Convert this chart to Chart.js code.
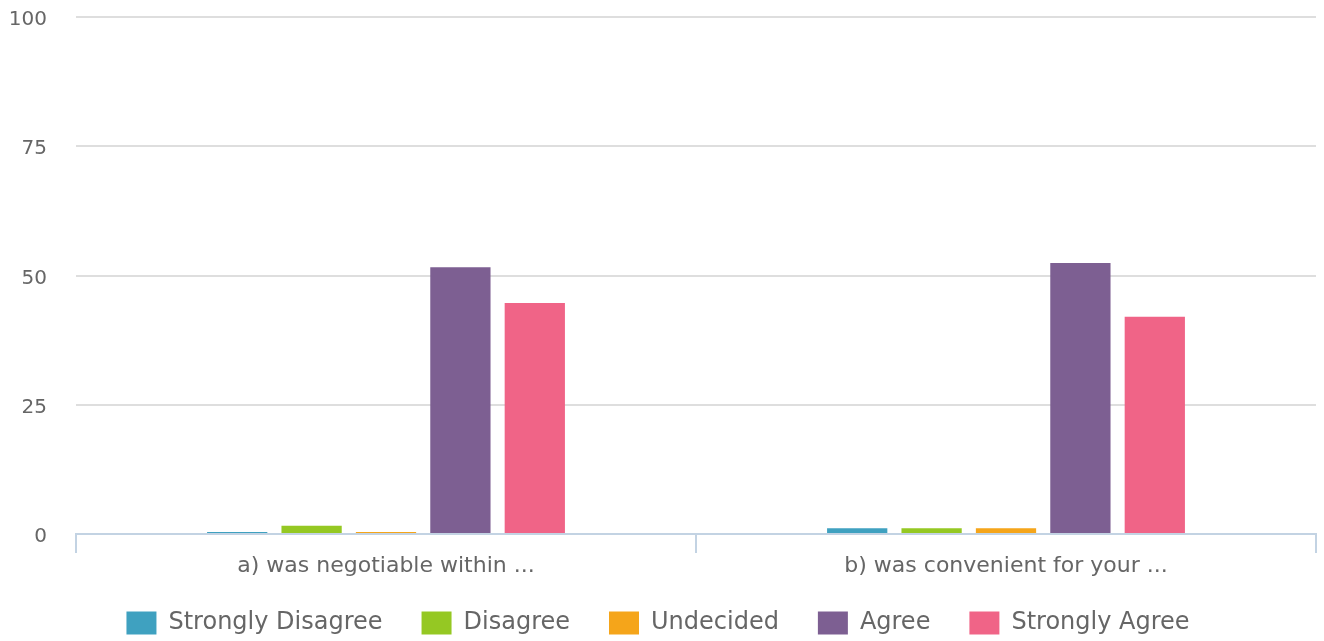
<!DOCTYPE html>
<html lang="en">
<head>
    <meta charset="UTF-8">
    <title>Survey responses</title>
    <script src="https://cdn.jsdelivr.net/npm/chart.js"></script>
    <style>
        html, body { margin: 0; padding: 0; background: #fff; }
        #wrap { width: 1324px; height: 641px; }
    </style>
</head>
<body>
    <div id="wrap"><canvas id="surveyChart"></canvas></div>

    <script>
        // data
        const categories = ['a) was negotiable within ...', 'b) was convenient for your ...'];
        const seriesNames = ['Strongly Disagree', 'Disagree', 'Undecided', 'Agree', 'Strongly Agree'];
        const stronglyDisagree = [0.4, 1.1];
        const disagree = [1.6, 1.1];
        const undecided = [0.4, 1.1];
        const agree = [51.6, 52.4];
        const stronglyAgree = [44.7, 42.0];
        const seriesColors = ['#3fa1c0', '#95c823', '#f5a51a', '#7d5f92', '#f06487'];
        const yTicks = [0, 25, 50, 75, 100];

        const values = [stronglyDisagree, disagree, undecided, agree, stronglyAgree];
        const textFont = "'DejaVu Sans', Verdana, sans-serif";

        new Chart(document.getElementById('surveyChart'), {
            type: 'bar',
            data: {
                labels: categories,
                datasets: seriesNames.map((name, i) => ({
                    label: name,
                    data: values[i],
                    backgroundColor: seriesColors[i],
                    borderWidth: 0,
                    categoryPercentage: 0.6,
                    barPercentage: 0.81
                }))
            },
            options: {
                responsive: true,
                maintainAspectRatio: false,
                animation: false,
                layout: { padding: { top: 17, right: 8, left: 0, bottom: -4 } },
                plugins: {
                    tooltip: { enabled: false },
                    legend: {
                        position: 'bottom',
                        labels: {
                            boxWidth: 30,
                            boxHeight: 23,
                            padding: 39,
                            color: '#666',
                            font: { family: textFont, size: 24 }
                        }
                    }
                },
                scales: {
                    x: {
                        afterFit: scale => {
                            scale.height = 38;
                            // let the descenders of the labels run below the axis box
                            scale._computeLabelArea = () => null;
                        },
                        grid: {
                            offset: true,
                            drawOnChartArea: false,
                            color: '#c3d3e3',
                            lineWidth: 2,
                            tickLength: 19
                        },
                        border: { color: '#c3d3e3', width: 2 },
                        ticks: {
                            color: '#666',
                            padding: 0,
                            font: { family: textFont, size: 22 }
                        }
                    },
                    y: {
                        min: 0,
                        max: 100,
                        afterBuildTicks: scale => { scale.ticks = yTicks.map(v => ({ value: v })); },
                        afterFit: scale => {
                            scale.width = 76;
                            scale.paddingTop = 0;
                            scale.paddingBottom = 0;
                        },
                        grid: { color: '#dedede', lineWidth: 2, drawTicks: false },
                        border: { display: false },
                        ticks: {
                            color: '#666',
                            padding: 29,
                            labelOffset: 3,
                            font: { family: textFont, size: 20 }
                        }
                    }
                }
            }
        });
    </script>
</body>
</html>
